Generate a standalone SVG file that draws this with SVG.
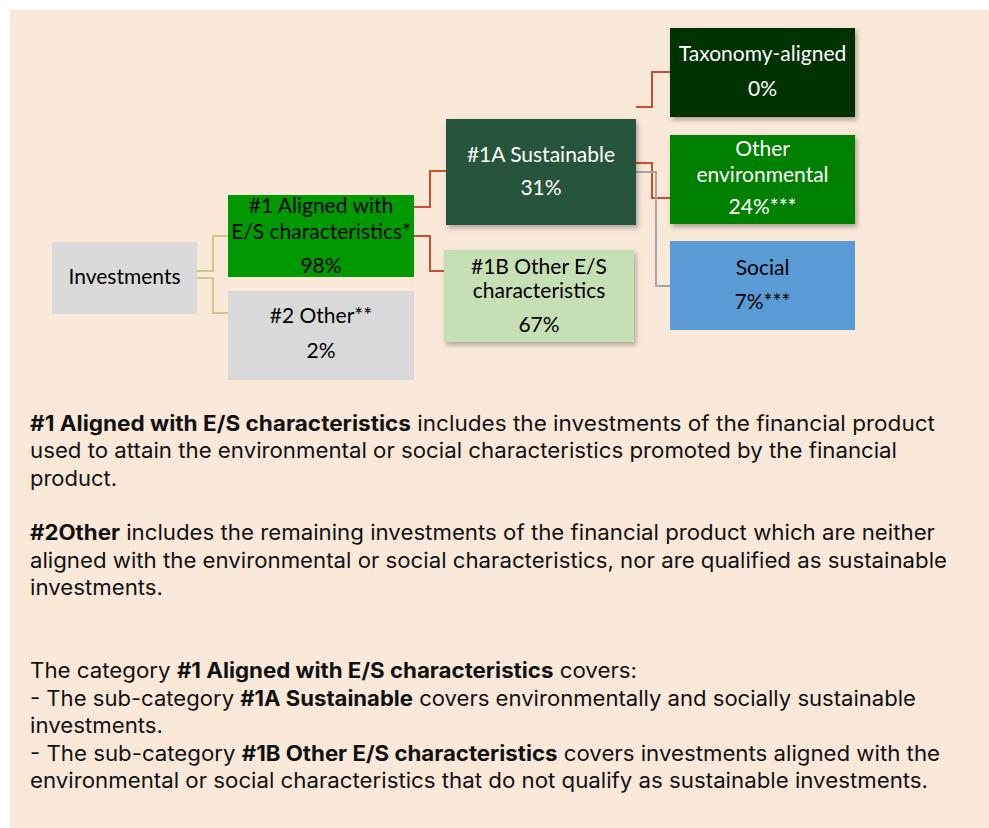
<svg xmlns="http://www.w3.org/2000/svg" width="989" height="828" viewBox="0 0 989 828">
<defs>
<filter id="sh" x="-10%" y="-10%" width="125%" height="130%">
<feDropShadow dx="2" dy="3" stdDeviation="2.5" flood-color="#000" flood-opacity="0.3"/>
</filter>
</defs>
<style>
.n{font-family:Lato,"Open Sans","Liberation Sans",sans-serif;font-size:21px;text-anchor:middle}
.w{fill:#ffffff}
.k{fill:#000000}
.b{font-family:Inter,"Noto Sans","Liberation Sans",sans-serif;font-size:21px;fill:#111111}
.bb{font-weight:bold}
.c{fill:none;stroke-width:2}
.r{stroke:#C9502E}
.y{stroke:#D2C68A}
.g{stroke:#A6A6A6}
</style>
<rect x="0" y="0" width="989" height="828" fill="#ffffff"/>
<rect x="10" y="10" width="979" height="818" fill="#FAE8D8"/>
<g id="connectors">
<polyline class="c y" points="197,271 213,271 213,236 228,236"/>
<polyline class="c y" points="197,278 213,278 213,313 228,313"/>
<polyline class="c r" points="414,207 430,207 430,171 446,171"/>
<polyline class="c r" points="414,236 430,236 430,271 444,271"/>
<polyline class="c r" points="636,107 652,107 652,72 670,72"/>
<polyline class="c r" points="636,163 652,163 652,198 670,198"/>
<polyline class="c g" points="636,172 656,172 656,286 670,286"/>
</g>
<g id="investments">
<rect x="52" y="242" width="145" height="72" fill="#DADADA"/>
<text class="n k" x="124.5" y="284">Investments</text>
</g>
<g id="aligned">
<rect x="228" y="195" width="186" height="82" fill="#009900"/>
<text class="n k" x="321" y="213">#1 Aligned with</text>
<text class="n k" x="321" y="239">E/S characteristics*</text>
<text class="n k" x="321" y="273">98%</text>
</g>
<g id="other">
<rect x="228" y="291" width="186" height="89" fill="#D9D9D9"/>
<text class="n k" x="321" y="323">#2 Other**</text>
<text class="n k" x="321" y="358">2%</text>
</g>
<g id="sustainable">
<rect x="446" y="119" width="190" height="106" fill="#25553A" filter="url(#sh)"/>
<text class="n w" x="541" y="162">#1A Sustainable</text>
<text class="n w" x="541" y="195">31%</text>
</g>
<g id="other-es">
<rect x="444" y="250" width="190" height="92" fill="#C5E0B4" filter="url(#sh)"/>
<text class="n k" x="539" y="274">#1B Other E/S</text>
<text class="n k" x="539" y="298">characteristics</text>
<text class="n k" x="539" y="332">67%</text>
</g>
<g id="taxonomy">
<rect x="670" y="28" width="185" height="89" fill="#003300" filter="url(#sh)"/>
<text class="n w" x="762.5" y="61">Taxonomy-aligned</text>
<text class="n w" x="762.5" y="96">0%</text>
</g>
<g id="other-env">
<rect x="670" y="135" width="185" height="89" fill="#008000" filter="url(#sh)"/>
<text class="n w" x="762.5" y="156">Other</text>
<text class="n w" x="762.5" y="182">environmental</text>
<text class="n w" x="762.5" y="214">24%***</text>
</g>
<g id="social">
<rect x="670" y="241" width="185" height="89" fill="#5B9BD5"/>
<text class="n k" x="762.5" y="275">Social</text>
<text class="n k" x="762.5" y="309">7%***</text>
</g>
<g id="notes">
<text class="b" x="30" y="431" textLength="905" lengthAdjust="spacingAndGlyphs"><tspan class="bb">#1 Aligned with E/S characteristics</tspan> includes the investments of the financial product</text>
<text class="b" x="30" y="458" textLength="867" lengthAdjust="spacingAndGlyphs">used to attain the environmental or social characteristics promoted by the financial</text>
<text class="b" x="30" y="486" textLength="87" lengthAdjust="spacingAndGlyphs">product.</text>
<text class="b" x="30" y="540" textLength="905" lengthAdjust="spacingAndGlyphs"><tspan class="bb">#2Other</tspan> includes the remaining investments of the financial product which are neither</text>
<text class="b" x="30" y="568" textLength="917" lengthAdjust="spacingAndGlyphs">aligned with the environmental or social characteristics, nor are qualified as sustainable</text>
<text class="b" x="30" y="595" textLength="133" lengthAdjust="spacingAndGlyphs">investments.</text>
<text class="b" x="30" y="678" textLength="607" lengthAdjust="spacingAndGlyphs">The category <tspan class="bb">#1 Aligned with E/S characteristics</tspan> covers:</text>
<text class="b" x="30" y="706" textLength="886" lengthAdjust="spacingAndGlyphs">- The sub-category <tspan class="bb">#1A Sustainable</tspan> covers environmentally and socially sustainable</text>
<text class="b" x="30" y="733" textLength="133" lengthAdjust="spacingAndGlyphs">investments.</text>
<text class="b" x="30" y="761" textLength="910" lengthAdjust="spacingAndGlyphs">- The sub-category <tspan class="bb">#1B Other E/S characteristics</tspan> covers investments aligned with the</text>
<text class="b" x="30" y="788" textLength="898" lengthAdjust="spacingAndGlyphs">environmental or social characteristics that do not qualify as sustainable investments.</text>
</g>
</svg>
